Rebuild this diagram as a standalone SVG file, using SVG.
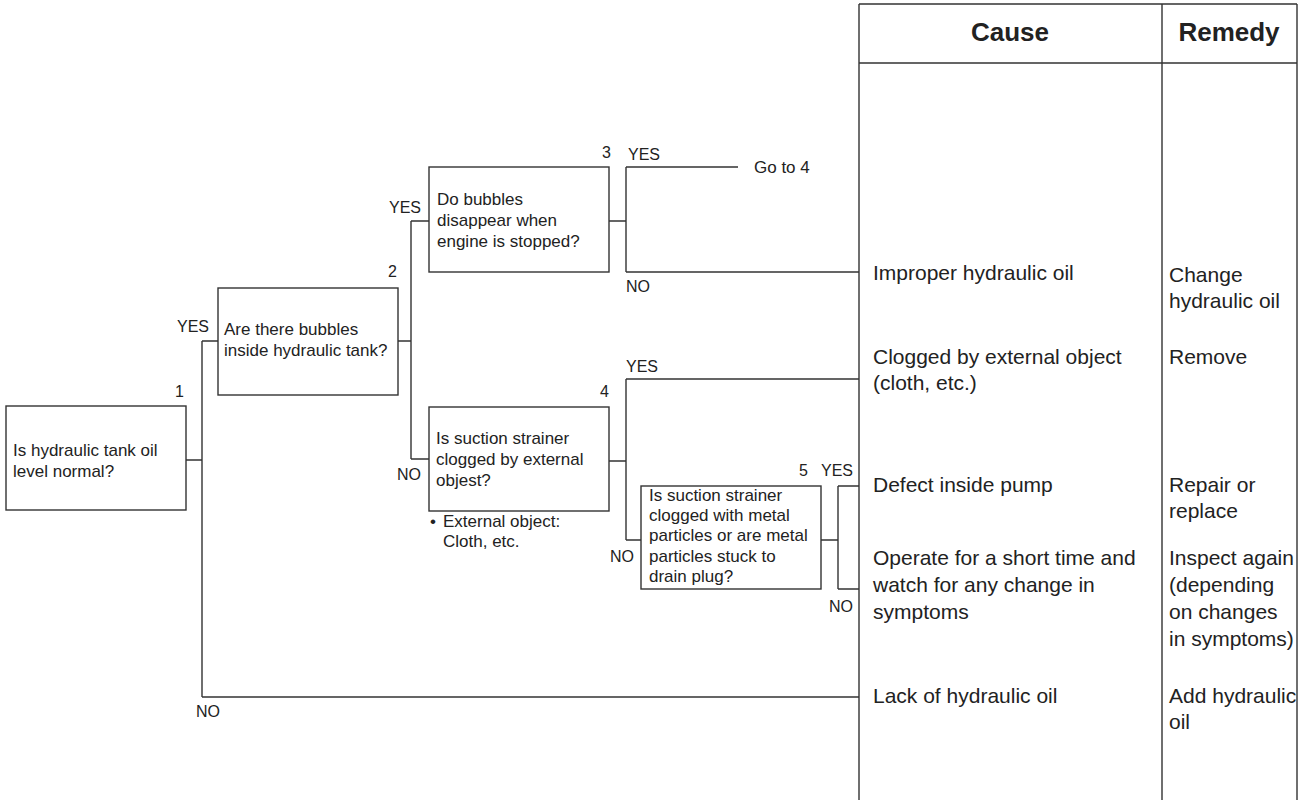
<svg xmlns="http://www.w3.org/2000/svg" width="1304" height="800" viewBox="0 0 1304 800">
<style>
text{font-family:"Liberation Sans",Arial,sans-serif;fill:#222}
.b{font-size:17px}
.l{font-size:16px}
.c{font-size:21px}
.h{font-size:26px;font-weight:bold;text-anchor:middle}
.box{fill:#fff;stroke:#333;stroke-width:1.4}
.ln{fill:none;stroke:#333;stroke-width:1.4}
.e{text-anchor:end}
</style>
<rect width="1304" height="800" fill="#fff"/>
<g id="table">
<path class="ln" d="M859,4H1297M859,63H1297M859,4V800M1162,4V800M1297,4V800"/>
<text class="h" x="1010" y="41">Cause</text>
<text class="h" x="1229" y="41">Remedy</text>
</g>
<g id="connectors">
<path class="ln" d="M186,460H202M202,341V697M202,341H218M202,697H859"/>
<path class="ln" d="M398,341H411M411,221V459M411,221H429M411,459H429"/>
<path class="ln" d="M609,221H626M626,167V272M626,167H738M626,272H859"/>
<path class="ln" d="M609,461H626M626,379V540M626,379H859M626,540H641"/>
<path class="ln" d="M821,540H838M838,486V589M838,486H859M838,589H859"/>
</g>
<g id="labels">
<text class="l e" x="209" y="332">YES</text>
<text class="l" x="196" y="717">NO</text>
<text class="l e" x="421" y="213">YES</text>
<text class="l e" x="421" y="480">NO</text>
<text class="l" x="628" y="160">YES</text>
<text class="b" x="754" y="173">Go to 4</text>
<text class="l" x="626" y="292">NO</text>
<text class="l" x="626" y="372">YES</text>
<text class="l e" x="634" y="562">NO</text>
<text class="l e" x="853" y="476">YES</text>
<text class="l e" x="853" y="612">NO</text>
</g>
<g id="node1">
<rect class="box" x="6" y="406" width="180" height="104"/>
<text class="l e" x="184" y="397">1</text>
<text class="b" x="13" y="456">Is hydraulic tank oil</text>
<text class="b" x="13" y="477">level normal?</text>
</g>
<g id="node2">
<rect class="box" x="218" y="288" width="180" height="107"/>
<text class="l e" x="397" y="277">2</text>
<text class="b" x="224" y="335">Are there bubbles</text>
<text class="b" x="224" y="356">inside hydraulic tank?</text>
</g>
<g id="node3">
<rect class="box" x="429" y="167" width="180" height="105"/>
<text class="l e" x="611" y="158">3</text>
<text class="b" x="437" y="205">Do bubbles</text>
<text class="b" x="437" y="226">disappear when</text>
<text class="b" x="437" y="247">engine is stopped?</text>
</g>
<g id="node4">
<rect class="box" x="429" y="407" width="180" height="104"/>
<text class="l e" x="609" y="397">4</text>
<text class="b" x="436" y="444">Is suction strainer</text>
<text class="b" x="436" y="465">clogged by external</text>
<text class="b" x="436" y="486">objest?</text>
<text class="b" x="430" y="527">•</text>
<text class="b" x="443" y="527">External object:</text>
<text class="b" x="443" y="547">Cloth, etc.</text>
</g>
<g id="node5">
<rect class="box" x="641" y="486" width="180" height="103"/>
<text class="l e" x="808" y="476">5</text>
<text class="b" x="649" y="501">Is suction strainer</text>
<text class="b" x="649" y="521">clogged with metal</text>
<text class="b" x="649" y="541">particles or are metal</text>
<text class="b" x="649" y="562">particles stuck to</text>
<text class="b" x="649" y="582">drain plug?</text>
</g>
<g id="causes">
<text class="c" x="873" y="280">Improper hydraulic oil</text>
<text class="c" x="873" y="364">Clogged by external object</text>
<text class="c" x="873" y="390">(cloth, etc.)</text>
<text class="c" x="873" y="492">Defect inside pump</text>
<text class="c" x="873" y="565">Operate for a short time and</text>
<text class="c" x="873" y="592">watch for any change in</text>
<text class="c" x="873" y="619">symptoms</text>
<text class="c" x="873" y="703">Lack of hydraulic oil</text>
</g>
<g id="remedies">
<text class="c" x="1169" y="282">Change</text>
<text class="c" x="1169" y="308">hydraulic oil</text>
<text class="c" x="1169" y="364">Remove</text>
<text class="c" x="1169" y="492">Repair or</text>
<text class="c" x="1169" y="518">replace</text>
<text class="c" x="1169" y="565">Inspect again</text>
<text class="c" x="1169" y="592">(depending</text>
<text class="c" x="1169" y="619">on changes</text>
<text class="c" x="1169" y="646">in symptoms)</text>
<text class="c" x="1169" y="703">Add hydraulic</text>
<text class="c" x="1169" y="729">oil</text>
</g>
</svg>
